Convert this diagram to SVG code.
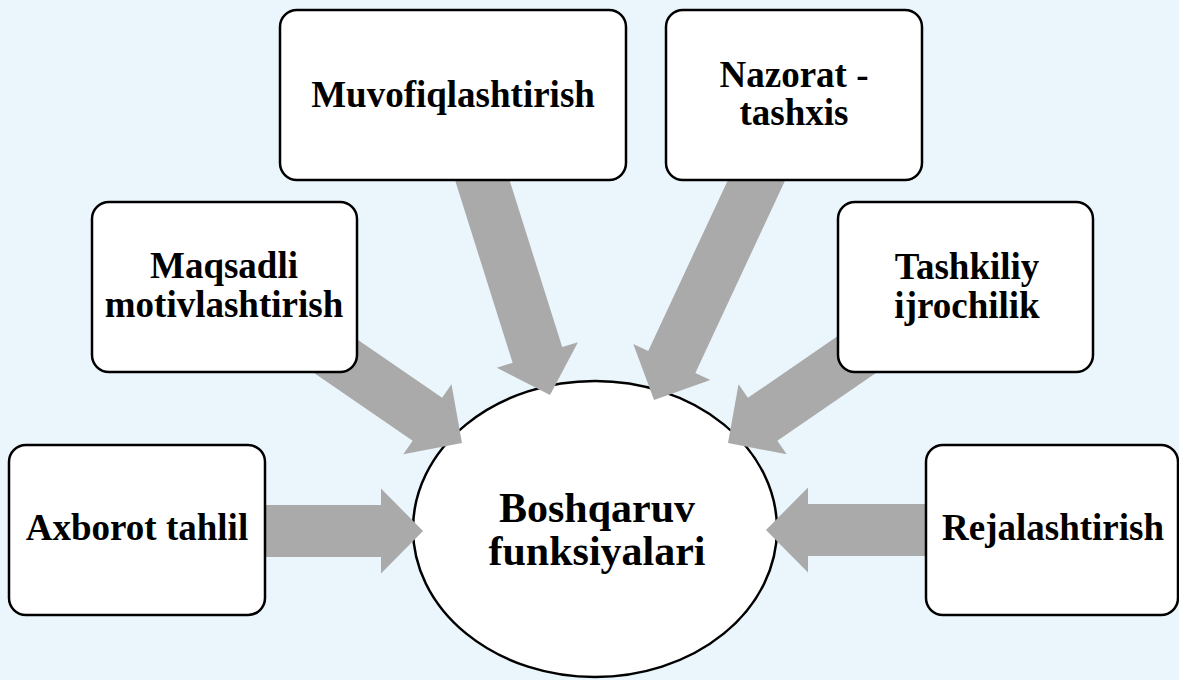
<svg xmlns="http://www.w3.org/2000/svg" width="1179" height="680" viewBox="0 0 1179 680">
<style>
.box{fill:#ffffff;stroke:#000000;stroke-width:2.5}
.arr{fill:#aaaaaa;stroke:none}
.t{font-family:"Liberation Serif","Times New Roman",serif;font-weight:bold;font-size:37px;fill:#000000;text-anchor:middle}
.tc{font-size:42px}
</style>
<rect x="0" y="0" width="1179" height="680" fill="#eaf6fc"/>
<g id="center">
<ellipse cx="595" cy="529" rx="182" ry="148" class="box"/>
<text class="t tc" x="597" y="522">Boshqaruv</text>
<text class="t tc" x="597" y="565">funksiyalari</text>
</g>
<g id="connectors">
<path class="arr" transform="translate(255,531)" d="M0,-26 H126 V-42.5 L168,0 L126,42.5 V26 H0 Z"/>
<path class="arr" transform="translate(936,530) rotate(180)" d="M0,-26 H128 V-42.5 L170,0 L128,42.5 V26 H0 Z"/>
<path class="arr" transform="translate(479.1,170) rotate(72.5)" d="M0,-26 H193.9 V-42.5 L235.9,0 L193.9,42.5 V26 H0 Z"/>
<path class="arr" transform="translate(761.3,170) rotate(115)" d="M0,-26 H211.8 V-42.5 L253.8,0 L211.8,42.5 V26 H0 Z"/>
<path class="arr" transform="translate(321.9,346.8) rotate(34.5)" d="M0,-26 H128 V-42.5 L170,0 L128,42.5 V26 H0 Z"/>
<path class="arr" transform="translate(868.1,346.8) rotate(145.5)" d="M0,-26 H128 V-42.5 L170,0 L128,42.5 V26 H0 Z"/>
</g>
<g id="axborot">
<rect class="box" x="9" y="445" width="256" height="170" rx="17"/>
<text class="t" x="137" y="540">Axborot tahlil</text>
</g>
<g id="maqsadli">
<rect class="box" x="92" y="202" width="265" height="170" rx="17"/>
<text class="t" x="224" y="278">Maqsadli</text>
<text class="t" x="224" y="317">motivlashtirish</text>
</g>
<g id="muvofiq">
<rect class="box" x="280" y="10" width="346" height="170" rx="17"/>
<text class="t" x="453" y="107">Muvofiqlashtirish</text>
</g>
<g id="nazorat">
<rect class="box" x="666" y="10" width="256" height="170" rx="17"/>
<text class="t" x="794" y="87">Nazorat -</text>
<text class="t" x="794" y="125">tashxis</text>
</g>
<g id="tashkiliy">
<rect class="box" x="838" y="202" width="255" height="170" rx="17"/>
<text class="t" x="967" y="279">Tashkiliy</text>
<text class="t" x="967" y="318">ijrochilik</text>
</g>
<g id="rejalash">
<rect class="box" x="926" y="445" width="252" height="170" rx="17"/>
<text class="t" x="1053" y="540">Rejalashtirish</text>
</g>
</svg>
